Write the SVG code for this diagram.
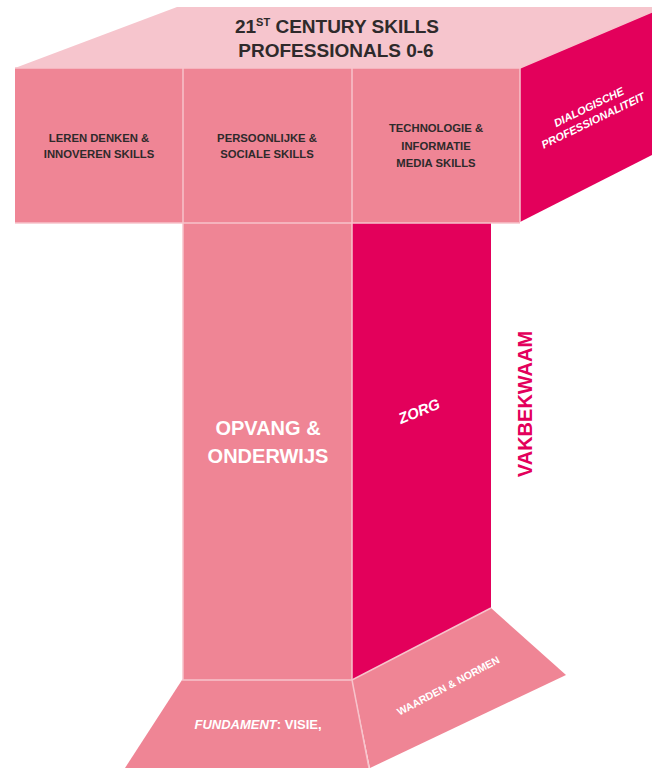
<svg xmlns="http://www.w3.org/2000/svg" width="652" height="768" viewBox="0 0 652 768">
<style>
.top{fill:#f6c5cd}
.pink{fill:#ef8595}
.mag{fill:#e3005b}
.sep{fill:none;stroke:#f7c3cb;stroke-width:1.5}
.t{font-family:"Liberation Sans",Arial,sans-serif;font-weight:bold;text-anchor:middle}
.dark{fill:#2e2a2b}
.w{fill:#ffffff}
</style>
<rect x="0" y="0" width="652" height="768" fill="#ffffff"/>
<g id="top-face">
<polygon class="top" points="177,7 652,7 652,12 520,68 15,68"/>
<text class="t dark" x="337" y="33" font-size="19">21<tspan font-size="11" dy="-7">ST</tspan><tspan dy="7"> CENTURY SKILLS</tspan></text>
<text class="t dark" x="336" y="57" font-size="19">PROFESSIONALS 0-6</text>
</g>
<g id="leren-denken">
<rect class="pink" x="15" y="68" width="168" height="155"/>
<text class="t dark" x="99" y="142" font-size="11.3">LEREN DENKEN &amp;</text>
<text class="t dark" x="99" y="158" font-size="11.3">INNOVEREN SKILLS</text>
</g>
<g id="persoonlijke">
<rect class="pink" x="183" y="68" width="169" height="155"/>
<text class="t dark" x="267" y="142" font-size="11.3">PERSOONLIJKE &amp;</text>
<text class="t dark" x="267" y="158" font-size="11.3">SOCIALE SKILLS</text>
</g>
<g id="technologie">
<rect class="pink" x="352" y="68" width="168" height="155"/>
<text class="t dark" x="436" y="132" font-size="11.3">TECHNOLOGIE &amp;</text>
<text class="t dark" x="436" y="150" font-size="11.3">INFORMATIE</text>
<text class="t dark" x="436" y="167" font-size="11.3">MEDIA SKILLS</text>
</g>
<g id="dialogische">
<polygon class="mag" points="520,68 652,12 652,155 520,222"/>
<g transform="translate(590,114) rotate(-26)">
<text class="t w" x="2" y="-3" font-size="11" font-style="italic">DIALOGISCHE</text>
<text class="t w" x="0" y="11" font-size="11" font-style="italic">PROFESSIONALITEIT</text>
</g>
</g>
<g id="opvang">
<rect class="pink" x="183" y="223" width="169" height="457"/>
<text class="t w" x="268" y="435" font-size="20">OPVANG &amp;</text>
<text class="t w" x="268" y="463" font-size="20">ONDERWIJS</text>
</g>
<g id="zorg">
<polygon class="mag" points="352,223 491,223 491,608 352,680"/>
<text class="t w" font-size="15" font-style="italic" transform="translate(421,416) rotate(-22)">ZORG</text>
</g>
<g id="vakbekwaam">
<text class="t" fill="#e3005b" font-size="20" transform="translate(532,404) rotate(-90)">VAKBEKWAAM</text>
</g>
<g id="fundament">
<polygon class="pink" points="182,680 352,680 369,768 125,768"/>
<text class="t w" x="258" y="729" font-size="13"><tspan font-style="italic">FUNDAMENT</tspan>: VISIE,</text>
</g>
<g id="waarden">
<polygon class="pink" points="352,680 491,608 566,675 370,768"/>
<text class="t w" font-size="10.5" transform="translate(450,689) rotate(-28)">WAARDEN &amp; NORMEN</text>
</g>
<g id="connectors">
<polyline class="sep" points="15,68 520,68 652,12"/>
<line class="sep" x1="183" y1="68" x2="183" y2="680"/>
<line class="sep" x1="352" y1="68" x2="352" y2="680"/>
<line class="sep" x1="520" y1="68" x2="520" y2="222"/>
<line class="sep" x1="15" y1="223" x2="520" y2="223"/>
<polyline class="sep" points="182,680 352,680 491,608"/>
<line class="sep" x1="352" y1="680" x2="369" y2="768"/>
</g>
</svg>
